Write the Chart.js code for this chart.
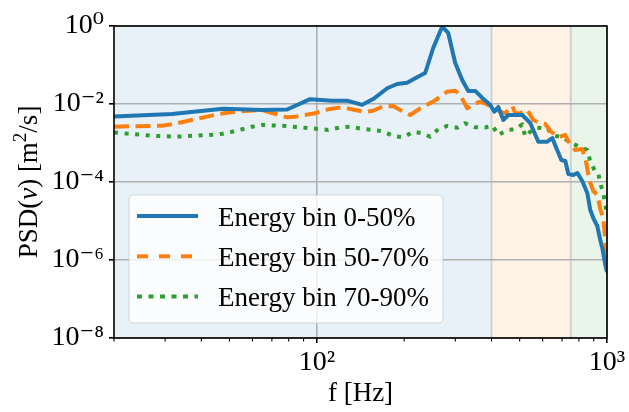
<!DOCTYPE html>
<html><head><meta charset="utf-8">
<script src="https://cdn.jsdelivr.net/npm/chart.js@4.4.1/dist/chart.umd.min.js"></script>
<style>html,body{margin:0;padding:0;background:#fff}#c{display:block}</style>
</head><body>
<div style="width:629px;height:412px"><canvas id="c" width="629" height="412"></canvas></div>
<script>
// ---- data ----
const seriesLabels = ['Energy bin 0-50%', 'Energy bin 50-70%', 'Energy bin 70-90%'];

const freqBlue = [20, 31.7, 47.5, 64.8, 79.0, 94.8, 112.9, 127.2, 143.3, 156.4, 174.8, 189.1, 204.8, 218.3, 236.3, 251.8, 270.4, 283.7, 299.9, 317.0, 332.5, 351.5, 371.6, 396.1, 408.9, 422.1, 439.2, 456.9, 510.5, 544.0, 579.7, 622.7, 647.9, 668.8, 695.9, 718.5, 735.8, 765.6, 790.3, 821.9, 855.2, 875.8, 896.9, 925.8, 948.1, 963.3, 986.6, 1000];
const psdBlue = [4.78e-3, 5.54e-3, 7.57e-3, 7.02e-3, 7.23e-3, 1.33e-2, 1.22e-2, 1.22e-2, 9.53e-3, 1.34e-2, 2.53e-2, 3.26e-2, 3.52e-2, 4.56e-2, 6.23e-2, 0.273, 0.96, 0.662, 0.1125, 4.12e-2, 2.16e-2, 2.16e-2, 1.43e-2, 9.43e-3, 6.35e-3, 8.38e-3, 3.89e-3, 5.22e-3, 5.22e-3, 3.26e-3, 1.08e-3, 1.08e-3, 1.34e-3, 7.45e-4, 3.67e-4, 3.45e-4, 1.60e-4, 1.51e-4, 1.70e-4, 1.06e-4, 5.22e-5, 1.91e-5, 1.19e-5, 7.45e-6, 3.26e-6, 2.03e-6, 7.45e-7, 4.92e-7];

const freqOrange = [20, 29.3, 31.7, 38.1, 46.0, 54.0, 64.8, 70.1, 79.0, 84.2, 98.6, 109.4, 122.2, 135.5, 146.8, 156.4, 168.0, 183.3, 193.7, 209.7, 227.1, 251.8, 281.4, 299.9, 312.0, 329.9, 343.3, 365.8, 389.8, 405.6, 428.8, 446.2, 471.6, 483.0, 502.4, 531.2, 557.1, 589.0, 612.9, 637.7, 679.6, 718.5, 747.5, 777.7, 821.9, 848.4, 868.9, 896.9, 925.8, 948.1, 971.0, 986.6, 1000];
const psdOrange = [2.62e-3, 2.78e-3, 3.02e-3, 4.05e-3, 5.54e-3, 6.50e-3, 7.02e-3, 5.88e-3, 4.56e-3, 4.72e-3, 5.78e-3, 7.31e-3, 8.23e-3, 7.02e-3, 6.24e-3, 6.73e-3, 8.53e-3, 8.89e-3, 7.02e-3, 5.22e-3, 7.76e-3, 1.15e-2, 2.07e-2, 2.19e-2, 1.70e-2, 7.76e-3, 9.43e-3, 1.15e-2, 9.43e-3, 7.76e-3, 6.35e-3, 5.78e-3, 8.89e-3, 5.78e-3, 5.78e-3, 7.02e-3, 3.89e-3, 3.20e-3, 3.07e-3, 2.03e-3, 1.43e-3, 1.60e-3, 8.89e-4, 6.62e-4, 7.02e-4, 3.07e-4, 1.12e-4, 5.88e-5, 4.65e-5, 2.03e-5, 1.19e-5, 3.26e-6, 7.45e-7];

const freqGreen = [20, 23.1, 27.0, 32.5, 38.1, 46.0, 50.2, 55.3, 59.8, 64.8, 77.8, 92.6, 109.4, 120.4, 130.3, 143.3, 156.4, 169.3, 183.3, 198.4, 214.8, 230.8, 245.9, 262.0, 281.4, 304.7, 324.7, 351.5, 380.6, 402.4, 422.1, 453.3, 483.0, 510.5, 522.8, 544.0, 575.1, 622.7, 653.1, 701.4, 747.5, 796.2, 855.2, 875.8, 911.2, 933.2, 948.1, 971.0, 986.6, 1000];
const psdGreen = [1.86e-3, 1.70e-3, 1.54e-3, 1.45e-3, 1.54e-3, 1.67e-3, 1.88e-3, 2.25e-3, 2.62e-3, 2.90e-3, 2.73e-3, 2.43e-3, 2.16e-3, 2.50e-3, 2.62e-3, 2.31e-3, 2.16e-3, 2.00e-3, 1.51e-3, 1.40e-3, 1.95e-3, 1.77e-3, 1.45e-3, 2.25e-3, 2.73e-3, 2.47e-3, 3.20e-3, 2.53e-3, 2.50e-3, 2.81e-3, 1.60e-3, 2.16e-3, 2.25e-3, 3.02e-3, 1.45e-3, 1.95e-3, 2.47e-3, 2.35e-3, 1.54e-3, 1.43e-3, 1.02e-3, 8.38e-4, 6.62e-4, 3.32e-4, 1.84e-4, 1.67e-4, 9.27e-5, 5.22e-5, 2.57e-5, 1.43e-5];

// frequency bands shaded behind the curves [from, to] in Hz
const bandLimits = [[20, 400], [400, 750], [750, 1000]];

// tick values and labels
const xTickValues = [20, 30, 40, 50, 60, 70, 80, 90, 100, 200, 300, 400, 500, 600, 700, 800, 900, 1000];
const xMajorTicks = [100, 1000];
const xTickLabels = ['10²', '10³'];
const yTickValues = [1e-8, 1e-6, 1e-4, 1e-2, 1];
const yTickLabels = ['10⁻⁸', '10⁻⁶', '10⁻⁴', '10⁻²', '10⁰'];
const xAxisTitle = 'f [Hz]';

// ---- styling ----
const FONT = '"Liberation Serif", "DejaVu Serif", serif';
const colors = ['#1f77b4', '#ff7f0e', '#2ca02c'];
const dashes = [[], [15, 6.5], [4, 6.6]];
const legendDashes = [[], [11, 11], [5, 6.5]];
const bandFills = ['rgba(31,119,180,0.1)', 'rgba(255,127,14,0.1)', 'rgba(44,160,44,0.1)'];

function pts(f, v) { return f.map((x, i) => ({ x: x, y: v[i] })); }

const bgPlugin = {
  id: 'bands',
  beforeDraw(chart) {
    const { ctx, chartArea: a, scales: { x } } = chart;
    ctx.save();
    bandLimits.forEach((b, i) => {
      const x0 = x.getPixelForValue(b[0]), x1 = x.getPixelForValue(b[1]);
      ctx.fillStyle = bandFills[i];
      ctx.fillRect(x0, a.top, x1 - x0, a.bottom - a.top);
    });
    ctx.strokeStyle = 'rgba(200,200,200,0.8)';
    ctx.lineWidth = 2;
    [bandLimits[1][0], bandLimits[2][0]].forEach(v => {
      const px = x.getPixelForValue(v);
      ctx.beginPath(); ctx.moveTo(px, a.top); ctx.lineTo(px, a.bottom); ctx.stroke();
    });
    ctx.restore();
  },
  afterDatasetsDraw(chart) {
    const { ctx, chartArea: a, scales: { x } } = chart;
    ctx.save();
    // frame
    ctx.strokeStyle = '#000';
    ctx.lineWidth = 1.6;
    ctx.strokeRect(a.left, a.top, a.right - a.left, a.bottom - a.top);
    // minor x ticks
    ctx.lineWidth = 1.1;
    xTickValues.forEach(v => {
      if (xMajorTicks.includes(v)) return;
      const px = x.getPixelForValue(v);
      ctx.beginPath(); ctx.moveTo(px, a.bottom); ctx.lineTo(px, a.bottom + 3.5); ctx.stroke();
    });
    ctx.restore();
  },
  afterDraw(chart) {
    const ctx = chart.ctx;
    ctx.save();
    // legend
    const bx = 129, by = 195, bw = 314, bh = 128, r = 5;
    ctx.beginPath();
    ctx.moveTo(bx + r, by); ctx.lineTo(bx + bw - r, by); ctx.quadraticCurveTo(bx + bw, by, bx + bw, by + r);
    ctx.lineTo(bx + bw, by + bh - r); ctx.quadraticCurveTo(bx + bw, by + bh, bx + bw - r, by + bh);
    ctx.lineTo(bx + r, by + bh); ctx.quadraticCurveTo(bx, by + bh, bx, by + bh - r);
    ctx.lineTo(bx, by + r); ctx.quadraticCurveTo(bx, by, bx + r, by);
    ctx.closePath();
    ctx.fillStyle = 'rgba(255,255,255,0.8)';
    ctx.fill();
    ctx.strokeStyle = 'rgba(204,204,204,0.8)';
    ctx.lineWidth = 1;
    ctx.stroke();
    seriesLabels.forEach((lab, i) => {
      const yy = 216 + i * 40.3;
      ctx.strokeStyle = colors[i];
      ctx.lineWidth = 4;
      ctx.setLineDash(legendDashes[i]);
      ctx.lineCap = 'butt';
      ctx.beginPath(); ctx.moveTo(137, yy); ctx.lineTo(198, yy); ctx.stroke();
      ctx.setLineDash([]);
      ctx.fillStyle = '#000';
      ctx.font = '27px ' + FONT;
      ctx.textBaseline = 'alphabetic';
      ctx.textAlign = 'left';
      ctx.fillText(lab, 218, yy + 9.5);
    });
    // y axis title with italic v
    ctx.translate(37, 182);
    ctx.rotate(-Math.PI / 2);
    const fs = 27;
    const parts = [
      { t: 'PSD(', f: fs + 'px ' + FONT, dy: 0 },
      { t: 'v', f: 'italic ' + fs + 'px ' + FONT, dy: 0 },
      { t: ') [m', f: fs + 'px ' + FONT, dy: 0 },
      { t: '2', f: Math.round(fs * 0.7) + 'px ' + FONT, dy: -fs * 0.42 },
      { t: '/s]', f: fs + 'px ' + FONT, dy: 0 }
    ];
    let total = 0;
    parts.forEach(p => { ctx.font = p.f; p.w = ctx.measureText(p.t).width; total += p.w; });
    let cx = -total / 2;
    ctx.fillStyle = '#000';
    ctx.textAlign = 'left';
    ctx.textBaseline = 'alphabetic';
    parts.forEach(p => { ctx.font = p.f; ctx.fillText(p.t, cx, p.dy); cx += p.w; });
    ctx.restore();
  }
};

new Chart(document.getElementById('c'), {
  type: 'line',
  data: {
    datasets: [
      { label: seriesLabels[0], data: pts(freqBlue, psdBlue) },
      { label: seriesLabels[1], data: pts(freqOrange, psdOrange) },
      { label: seriesLabels[2], data: pts(freqGreen, psdGreen) }
    ].map((d, i) => Object.assign(d, {
      borderColor: colors[i], backgroundColor: colors[i], borderWidth: 4,
      borderDash: dashes[i], borderCapStyle: 'butt', borderJoinStyle: 'round',
      pointRadius: 0, tension: 0, fill: false, clip: 0
    }))
  },
  options: {
    responsive: false, animation: false, devicePixelRatio: 1,
    layout: { padding: { top: 26, right: 22, left: 0, bottom: 0 } },
    plugins: { legend: { display: false }, tooltip: { enabled: false } },
    scales: {
      x: {
        type: 'logarithmic', min: 20, max: 1000,
        afterBuildTicks: s => { s.ticks = xTickValues.map(v => ({ value: v })); },
        afterFit: s => { s.height = 74; },
        ticks: {
          autoSkip: false, maxRotation: 0, minRotation: 0, padding: 3, color: '#000',
          font: { family: FONT, size: 28 },
          callback: v => { const k = xMajorTicks.indexOf(v); return k >= 0 ? xTickLabels[k] : ''; }
        },
        grid: {
          color: c => (c.tick && xMajorTicks.includes(c.tick.value)) ? '#b0b0b0' : 'rgba(0,0,0,0)',
          tickColor: c => (c.tick && xMajorTicks.includes(c.tick.value)) ? '#000' : 'rgba(0,0,0,0)',
          lineWidth: 1.6, tickWidth: 1.6, tickLength: 5, drawTicks: true
        },
        border: { display: false },
        title: { display: true, text: xAxisTitle, color: '#000', font: { family: FONT, size: 27 }, padding: { top: 0, bottom: 2 } }
      },
      y: {
        type: 'logarithmic', min: 1e-8, max: 1,
        afterBuildTicks: s => { s.ticks = yTickValues.map(v => ({ value: v })); },
        afterFit: s => { s.width = 114; },
        ticks: {
          autoSkip: false, padding: 5, color: '#000',
          font: { family: FONT, size: 28 },
          callback: v => { const k = yTickValues.findIndex(t => Math.abs(Math.log10(t) - Math.log10(v)) < 1e-6); return k >= 0 ? yTickLabels[k] : ''; }
        },
        grid: { color: '#b0b0b0', tickColor: '#000', lineWidth: 1.6, tickWidth: 1.6, tickLength: 5 },
        border: { display: false }
      }
    }
  },
  plugins: [bgPlugin]
});
</script>
</body></html>
